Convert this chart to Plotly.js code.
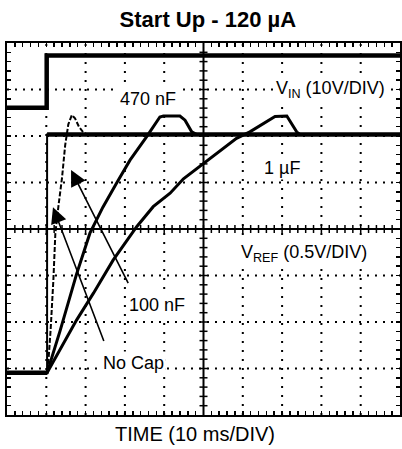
<!DOCTYPE html>
<html>
<head>
<meta charset="utf-8">
<script src="https://cdn.plot.ly/plotly-3.0.1.min.js"></script>
<style>html,body{margin:0;padding:0;background:#fff;}#chart{width:402px;height:449px;}</style>
</head>
<body>
<div id="chart"></div>
<script>
// Time in ms (10 ms/DIV), amplitude in screen divisions (0 = bottom graticule line)
const vinTime = [0, 10.1, 10.1, 100];
const vinLevel = [6.61, 6.61, 7.73, 7.73];

const vrefStart = 0.91;
const vrefFinal = 6.03;
const stepTime = 10.2;

const noCapTime = [0, 10.2, 10.2, 100];
const noCapLevel = [0.91, 0.91, 6.03, 6.03];

const cap100nTime = [0, 10.2, 10.5, 11.1, 11.8, 12.3, 13.1, 14.0, 14.8, 15.6, 16.5, 17.3, 18.3, 19.3, 20.4, 100];
const cap100nLevel = [0.91, 0.91, 1.12, 1.83, 2.9, 3.9, 4.5, 5.1, 5.8, 6.25, 6.45, 6.38, 6.2, 6.09, 6.03, 6.03];

const cap470nTime = [0, 10.2, 13.5, 17.7, 21.1, 24.4, 27.9, 31.3, 35.5, 37.2, 38.9, 39.8, 44.0, 45.3, 47.0, 48.3, 100];
const cap470nLevel = [0.91, 0.91, 1.81, 3.03, 3.91, 4.47, 4.99, 5.48, 5.98, 6.2, 6.41, 6.43, 6.43, 6.34, 6.09, 6.03, 6.03];

const cap1uTime = [0, 10.2, 17.7, 22.0, 27.0, 33.0, 37.2, 41.5, 44.9, 50.0, 53.4, 58.4, 61.8, 65.2, 68.2, 71.2, 73.7, 74.6, 100];
const cap1uLevel = [0.91, 0.91, 2.04, 2.62, 3.33, 4.05, 4.48, 4.77, 5.08, 5.41, 5.63, 5.95, 6.09, 6.27, 6.42, 6.43, 6.09, 6.03, 6.03];

const xRange = [0, 100];
const yRange = [0, 8];
const xDiv = 10;   // ms per division
const yDiv = 1;    // one screen division

const FONT = 'Liberation Sans, Arial, Helvetica, sans-serif';
const INK = 'black';

const traces = [
  {x: vinTime, y: vinLevel, mode: 'lines', line: {color: INK, width: 4.5}, name: 'VIN'},
  {x: [0, stepTime], y: [vrefStart, vrefStart], mode: 'lines', line: {color: INK, width: 4.5}, name: 'VREF start'},
  {x: [stepTime, 100], y: [vrefFinal, vrefFinal], mode: 'lines', line: {color: INK, width: 4.5}, name: 'VREF final'},
  {x: noCapTime, y: noCapLevel, mode: 'lines', line: {color: INK, width: 2}, name: 'No Cap'},
  {x: cap100nTime, y: cap100nLevel, mode: 'lines', line: {color: INK, width: 2, dash: '5px,2px'}, name: '100 nF'},
  {x: cap470nTime, y: cap470nLevel, mode: 'lines', line: {color: INK, width: 3}, name: '470 nF'},
  {x: cap1uTime, y: cap1uLevel, mode: 'lines', line: {color: INK, width: 3}, name: '1 µF'}
];

const shapes = [];
// dotted graticule
for (let t = xRange[0] + xDiv; t < xRange[1]; t += xDiv) {
  if (t === 50) continue;
  shapes.push({type: 'line', layer: 'below', xref: 'x', yref: 'y', x0: t, x1: t, y0: yRange[0], y1: yRange[1], line: {color: INK, width: 2, dash: '2px,7px'}});
}
for (let v = yRange[0] + yDiv; v < yRange[1]; v += yDiv) {
  if (v === 4) continue;
  shapes.push({type: 'line', layer: 'below', xref: 'x', yref: 'y', y0: v, y1: v, x0: xRange[0], x1: xRange[1], line: {color: INK, width: 2, dash: '2px,6px'}});
}
// centre crosshair
shapes.push({type: 'line', xref: 'x', yref: 'y', x0: xRange[0], x1: xRange[1], y0: 4, y1: 4, line: {color: INK, width: 2}});
shapes.push({type: 'line', xref: 'x', yref: 'y', x0: 50, x1: 50, y0: yRange[0], y1: yRange[1], line: {color: INK, width: 2}});
for (let i = 1; i < 50; i++) {
  const t = i * 2;
  shapes.push({type: 'line', xref: 'x', yref: 'y', x0: t, x1: t, ysizemode: 'pixel', yanchor: 4, y0: -4, y1: 4, line: {color: INK, width: 1.5}});
}
for (let k = 1; k < 40; k++) {
  const v = k * 0.2;
  shapes.push({type: 'line', xref: 'x', yref: 'y', y0: v, y1: v, xsizemode: 'pixel', xanchor: 50, x0: -4, x1: 4, line: {color: INK, width: 1.5}});
}

const label = (text, x, y) => ({text, x, y, xref: 'x', yref: 'y', showarrow: false, xanchor: 'center', yanchor: 'middle',
  bgcolor: 'white', borderpad: 1, font: {family: FONT, size: 18, color: INK}});
const arrow = (x, y, ax, ay) => ({x, y, ax, ay, xref: 'x', yref: 'y', axref: 'x', ayref: 'y', showarrow: true, arrowhead: 2, arrowsize: 2, arrowwidth: 1.6, arrowcolor: INK});

const annotations = [
  arrow(16.3, 5.27, 31.6, 2.71),
  arrow(11.7, 4.47, 25.4, 1.42),
  label('470 nF', 35.9, 6.80),
  label('V<sub>IN</sub> (10V/DIV)', 82.4, 6.99),
  label('1 µF', 70.0, 5.31),
  label('V<sub>REF</sub> (0.5V/DIV)', 75.6, 3.48),
  label('100 nF', 38.2, 2.37),
  label('No Cap', 32.3, 1.12),
  {text: 'TIME (10 ms/DIV)', x: 0.478, y: -0.051, xref: 'paper', yref: 'paper', showarrow: false, xanchor: 'center', yanchor: 'middle', font: {family: FONT, size: 20, color: INK}}
];

const axisCommon = {
  showgrid: false,
  zeroline: false, showline: true, linecolor: INK, linewidth: 2, mirror: 'allticks',
  ticks: 'inside', ticklen: 4, tickwidth: 1.5, tickcolor: INK, showticklabels: false,
  fixedrange: true
};

const layout = {
  width: 402, height: 449,
  margin: {l: 7, r: 2, t: 43, b: 34},
  paper_bgcolor: 'white', plot_bgcolor: 'white',
  showlegend: false,
  title: {text: 'Start Up - 120 µA', font: {family: FONT, size: 22, color: INK, weight: 'bold'},
          xref: 'container', x: 0.517, xanchor: 'center', yref: 'container', y: 1 - 19.5 / 449, yanchor: 'middle'},
  xaxis: Object.assign({}, axisCommon, {range: xRange, tick0: 0, dtick: xDiv,
    minor: {tick0: 0, dtick: 2, ticks: 'inside', ticklen: 4, tickwidth: 1.5, tickcolor: INK, showgrid: false}}),
  yaxis: Object.assign({}, axisCommon, {range: yRange, tick0: 0, dtick: yDiv,
    minor: {tick0: 0, dtick: 0.2, ticks: 'inside', ticklen: 4, tickwidth: 1.5, tickcolor: INK, showgrid: false}}),
  shapes, annotations
};

Plotly.newPlot('chart', traces, layout, {staticPlot: true, displayModeBar: false});
</script>
</body>
</html>
